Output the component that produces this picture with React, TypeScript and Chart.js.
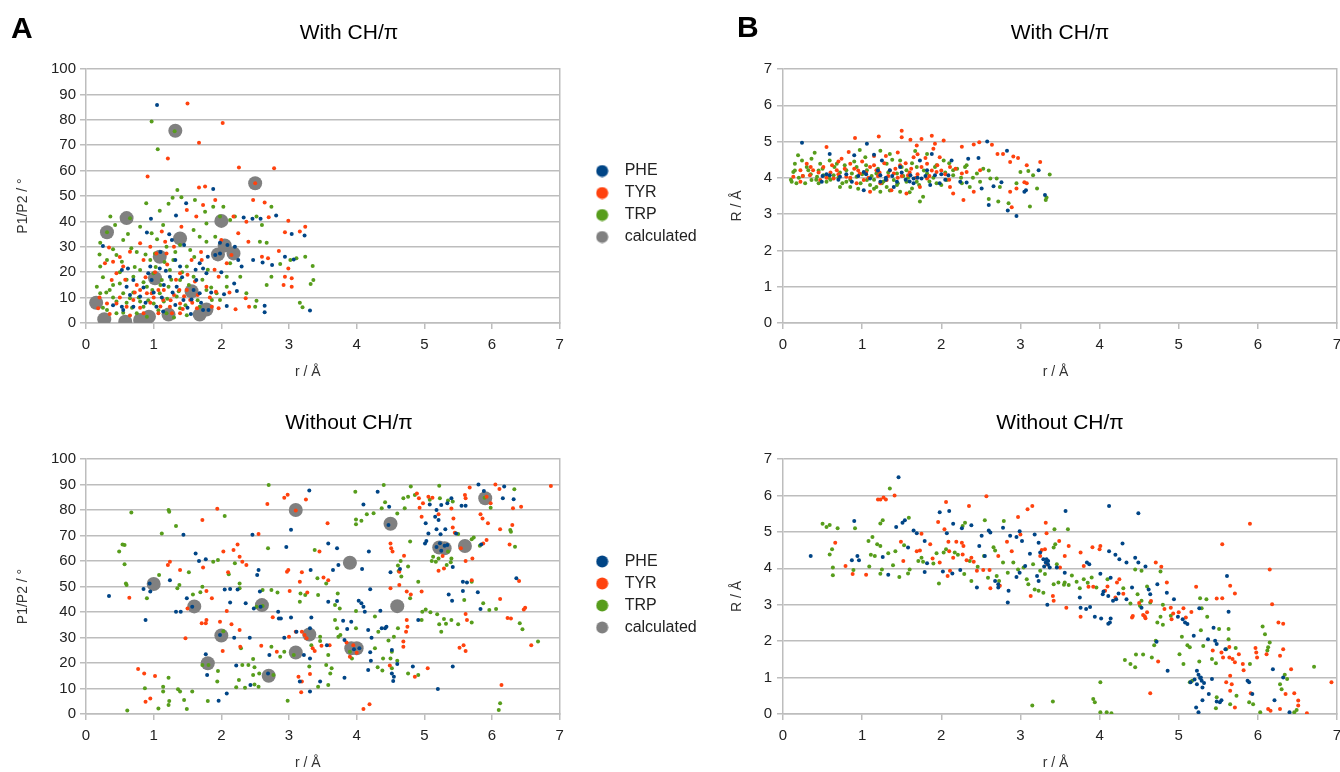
import React, { useEffect, useRef } from "react";
import { Chart, registerables } from "chart.js";

Chart.register(...registerables);

type Pt = [number, number];

const FONT = '"Liberation Sans", Arial, sans-serif';
const GRID = "#bdbdbd";
const TEXT = "#222222";
const seriesNames = ["PHE", "TYR", "TRP", "calculated"];
const seriesColors = ["#004586", "#ff420e", "#579d1c", "#808080"];
const rTicks = [0, 1, 2, 3, 4, 5, 6, 7];
const angleTicks = [0, 10, 20, 30, 40, 50, 60, 70, 80, 90, 100];
const distTicks = [0, 1, 2, 3, 4, 5, 6, 7];

// ---------- With CH/π : P1/P2 angle ----------
const pheWithAngle: Pt[] = [[1.05,85.8],[1.88,52.8],[1.48,47.1],[1.33,42.3],[0.96,41],[0.9,35.6],[0.25,30.3],[1.23,34.9],[1.27,32.7],[1.45,30.7],[2.33,41.5],[2.46,41],[2.58,41],[2.81,42.3],[3.04,35],[3.23,34.4],[2.61,23.8],[2.47,24.8],[2.75,22.8],[2.94,26.1],[3.07,25],[3.31,4.9],[2.64,6.8],[2.64,4.2],[1.98,31.6],[2.09,30.7],[1.98,27.4],[1.91,26.8],[2.2,30],[2.25,24.8],[2.3,22.2],[2.19,15.6],[2.23,12.6],[2.04,11.3],[1.8,26.1],[1.68,23.5],[1.73,21.5],[1.78,19.6],[1.63,16.9],[1.59,13],[1.68,11.7],[1.56,9.3],[1.44,9.1],[1.32,7.1],[1.14,4.5],[1.04,6.4],[0.95,22.2],[0.92,19.6],[1.09,21.5],[1.18,20.6],[0.97,16.9],[0.7,16.9],[0.6,14.3],[0.53,20.9],[0.53,6.4],[0.7,6.4],[0.55,5.1],[0.8,10.4],[1.81,5.1],[1.73,5.1],[2.08,6.7],[1.32,24.8],[1.39,22.2],[1.24,18.2],[1.34,14.3],[0.88,8],[1.0,12],[1.12,10],[0.62,21.5],[1.55,3.5],[0.4,7],[0.65,11],[0.85,14],[1.15,15],[1.28,12],[1.42,18],[1.5,6],[1.62,21],[1.7,8],[1.85,12],[2.0,20],[1.1,28]];
const tyrWithAngle: Pt[] = [[1.5,86.4],[2.02,78.7],[1.67,71],[1.21,64.8],[2.26,61.2],[2.78,60.9],[0.91,57.7],[2.5,55],[1.67,53.3],[1.76,53.7],[1.91,48.4],[1.73,46.5],[1.49,44.5],[1.63,41.9],[2.47,48.4],[2.64,47.4],[2.7,41.6],[2.99,40.3],[2.94,35.7],[3.24,37.9],[3.16,36],[2.85,28.3],[2.99,21.5],[2.94,18.2],[3.04,17.6],[2.92,15],[3.04,14.3],[2.37,39.9],[2.18,41.9],[2.25,35.3],[2.4,32],[2.36,9.7],[2.21,5.4],[2.41,6.4],[2.6,26.1],[2.69,25.5],[2.15,26.8],[2.08,23.5],[1.96,18.2],[1.78,14.3],[1.92,12.3],[1.86,6.4],[1.96,5.8],[1.61,16.3],[1.39,19.6],[1.49,13],[1.54,9.1],[1.39,7.7],[1.24,6.4],[1.14,9.1],[1.07,13],[0.9,11.7],[0.8,13],[0.7,9.1],[0.6,6.4],[0.45,7.7],[0.31,7.7],[0.18,5.8],[0.28,23.5],[0.34,29.7],[0.4,24.1],[0.45,19.6],[0.38,16.9],[0.55,22.2],[0.8,31.4],[0.65,28.1],[1.12,36],[1.17,32],[1.04,27.4],[0.85,24.8],[0.97,11.7],[0.85,3.8],[1.27,3.8],[1.39,3.8],[1.64,5.8],[1.07,3.8],[1.41,37.9],[1.19,27.4],[1.56,24.8],[1.71,24.8],[2.0,32.7],[1.0,10],[1.3,11],[1.45,10.5],[0.75,15],[0.2,10],[0.35,3.5],[0.5,10],[0.58,17],[0.65,3],[0.72,12],[0.8,6],[0.88,18],[0.95,8],[1.02,20],[1.1,6.5],[1.15,13],[1.2,23],[1.25,9],[1.33,17],[1.38,13],[1.43,5.5],[1.5,19],[1.57,8],[1.65,11],[1.7,28],[1.83,10],[1.9,21],[2.12,12],[0.95,30],[1.3,30],[0.5,26]];
const trpWithAngle: Pt[] = [[0.97,79.3],[1.06,68.4],[1.31,75.5],[1.35,52.4],[1.28,49.3],[0.89,47.1],[1.09,44.2],[0.36,41.9],[0.65,41.2],[0.43,38.6],[0.31,35.7],[0.21,31.6],[0.55,32.7],[0.67,29.4],[0.45,26.8],[0.31,24.8],[0.21,22.2],[0.16,14.3],[0.21,11.7],[0.35,13],[0.5,15.6],[0.7,18.2],[0.8,20.9],[0.95,24.8],[1.02,27.4],[1.19,30],[1.39,30.7],[1.59,36.6],[1.78,39.2],[1.98,41.9],[2.13,40.6],[2.2,41.9],[2.52,41.9],[2.6,38.6],[2.74,45.8],[2.67,31.6],[2.57,32],[2.87,23.2],[3.02,24.8],[3.11,25.5],[3.24,26.1],[3.35,22.4],[3.36,16.9],[3.32,15.4],[3.16,8],[3.2,6.2],[2.74,18.2],[2.67,15],[2.52,8.8],[2.37,11.7],[2.28,18.2],[2.5,6.4],[2.08,18.2],[1.93,11.7],[2.08,14.3],[1.98,9.1],[1.86,9.1],[1.68,6.4],[1.78,13],[1.59,18.2],[1.49,22.2],[1.54,28.7],[1.29,24.8],[1.24,20.9],[1.12,16.9],[1.0,19.6],[0.9,14.3],[1.09,11.7],[1.0,7.7],[0.85,6.4],[0.75,3.8],[0.65,9.7],[0.55,11.7],[0.45,3.8],[0.31,5.1],[1.19,3.8],[1.39,5.8],[1.49,3.1],[1.34,10.4],[1.22,14.3],[1.39,16.9],[1.76,43.8],[1.88,45.8],[2.03,45.8],[1.22,46.9],[1.41,49.5],[1.61,48.4],[2.13,23.5],[1.78,32],[1.68,34],[1.91,34],[0.97,35.3],[0.8,37.9],[1.14,38.6],[0.53,24.1],[0.25,18],[0.4,10],[0.6,8],[0.8,8.5],[0.9,2.5],[1.15,8.5],[1.3,2.2],[0.7,12],[0.25,6],[0.3,12],[0.4,15],[0.45,8.5],[0.5,20],[0.55,4],[0.6,17],[0.68,6],[0.72,22],[0.78,10],[0.85,16],[0.88,27],[0.92,9],[0.98,13],[1.03,22],[1.07,5],[1.1,15],[1.16,24],[1.2,9.5],[1.26,17],[1.32,28],[1.37,12.5],[1.42,20],[1.47,7],[1.52,15],[1.6,26],[1.65,9],[1.72,17],[1.8,21],[1.85,14],[1.05,33],[0.75,28],[0.4,29],[0.2,27],[0.62,35]];
const calcWithAngle: Pt[] = [[0.15,8],[0.27,1.5],[0.31,35.7],[0.6,41.3],[0.58,0.5],[0.8,1.2],[0.87,0.5],[0.93,2.5],[1.09,26.1],[1.32,75.7],[1.22,3.3],[1.39,33.3],[1.56,12.5],[1.68,3.3],[1.78,5.3],[1.95,27],[2.0,40.2],[2.05,30.5],[2.18,27.4],[2.5,55],[1.02,17.6]];

// ---------- With CH/π : R distance ----------
const pheWithDist: Pt[] = [[0.24,4.97],[0.59,4.66],[1.06,4.94],[1.15,4.64],[0.9,4.62],[1.88,4.66],[2.13,4.48],[2.34,4.53],[2.47,4.55],[2.58,5.0],[2.83,4.75],[2.76,3.88],[2.51,3.71],[2.66,3.77],[2.6,3.25],[2.84,3.1],[2.95,2.95],[3.07,3.66],[3.23,4.21],[3.31,3.53],[2.24,3.89],[2.32,3.87],[1.98,3.85],[1.65,3.85],[1.75,3.98],[1.61,4.07],[1.44,3.89],[1.35,4.21],[1.23,4.07],[1.1,3.98],[1.02,4.16],[0.87,3.89],[0.72,4.03],[0.59,4.07],[0.49,3.89],[1.02,3.66],[1.23,3.89],[1.48,4.3],[1.82,4.21],[1.92,4.07],[2.09,4.07],[1.73,4.48],[1.25,4.48],[1.65,3.98],[1.4,3.75],[1.86,3.8],[0.55,4.1],[0.95,4.05],[1.3,4.0],[1.55,3.95],[2.0,4.1],[3.05,3.62],[0.5,4.05],[0.8,4.1],[1.05,4.1],[1.2,4.2],[1.38,4.05],[1.5,4.15],[1.7,4.0],[1.8,4.05],[2.05,3.95],[1.6,3.9],[1.3,3.95],[0.7,3.95]];
const tyrWithDist: Pt[] = [[1.5,5.3],[1.5,5.12],[1.21,5.14],[0.91,5.1],[0.55,4.85],[1.61,5.05],[1.75,5.07],[1.88,5.16],[2.03,5.03],[1.69,4.89],[1.92,4.94],[2.26,4.86],[2.41,4.92],[2.48,4.98],[2.64,4.91],[2.71,4.66],[2.78,4.66],[2.91,4.59],[2.97,4.55],[2.87,4.44],[3.08,4.35],[3.25,4.44],[3.08,3.85],[2.95,3.71],[2.87,3.62],[2.89,3.19],[2.28,3.39],[2.41,3.62],[2.15,3.57],[2.11,3.75],[2.32,4.16],[2.26,4.12],[2.49,4.21],[2.11,4.3],[1.94,4.16],[1.82,4.39],[1.65,4.57],[1.48,4.35],[1.4,4.12],[1.31,3.94],[1.18,4.21],[1.1,4.3],[0.97,4.12],[0.85,4.39],[0.83,4.71],[0.74,4.53],[0.68,4.21],[0.51,4.3],[0.38,4.21],[0.3,4.39],[0.22,4.21],[0.13,4.03],[0.22,3.89],[0.34,4.07],[0.47,3.94],[0.64,3.98],[0.8,4.03],[0.93,3.85],[1.1,3.62],[1.56,3.57],[1.73,3.75],[1.82,3.98],[1.58,4.07],[1.37,3.66],[1.98,4.57],[1.23,3.85],[1.02,3.94],[1.05,4.15],[1.2,4.05],[1.35,4.2],[1.45,4.0],[1.62,4.25],[1.7,4.1],[1.85,4.05],[2.0,4.2],[0.6,4.15],[0.9,4.25],[3.05,3.88],[0.25,4.05],[0.35,4.3],[0.45,4.15],[0.55,4.0],[0.62,4.35],[0.7,4.1],[0.78,4.25],[0.85,4.0],[0.95,4.2],[1.0,4.45],[1.08,4.0],[1.15,4.35],[1.22,4.15],[1.28,4.4],[1.33,4.05],[1.42,4.25],[1.5,4.05],[1.55,4.4],[1.6,4.15],[1.68,4.0],[1.75,4.3],[1.8,4.55],[1.88,4.2],[1.95,4.35],[2.05,4.1],[2.1,3.95],[2.18,4.25],[1.3,4.6],[1.45,4.7],[1.7,4.65],[1.9,4.8],[1.15,4.6],[0.7,4.45]];
const trpWithDist: Pt[] = [[0.19,4.62],[0.15,4.39],[0.11,3.89],[0.17,3.85],[0.28,3.85],[0.4,4.69],[0.32,4.21],[0.43,4.03],[0.55,3.89],[0.72,3.75],[0.85,3.75],[0.97,4.77],[1.04,4.57],[1.1,3.8],[1.25,3.85],[1.4,3.94],[1.23,3.62],[1.48,3.62],[1.63,3.71],[1.73,3.35],[1.77,3.48],[1.67,4.74],[1.82,4.66],[2.03,4.48],[1.94,4.35],[2.15,4.21],[2.32,4.35],[2.36,3.75],[2.49,3.89],[2.62,3.98],[2.53,4.25],[2.6,3.42],[2.72,3.35],[2.85,3.3],[2.95,3.85],[3.1,4.19],[3.16,4.07],[3.21,3.71],[3.12,3.21],[3.33,3.46],[3.32,3.39],[3.37,4.09],[3.0,4.16],[2.74,3.75],[2.26,3.85],[2.07,3.94],[1.94,3.85],[1.82,4.12],[1.69,4.3],[1.56,4.21],[1.44,4.12],[1.31,4.39],[1.18,4.12],[1.06,4.21],[0.93,4.3],[0.8,4.21],[0.68,4.39],[0.59,4.48],[0.47,4.39],[0.36,4.53],[0.24,4.48],[0.51,4.07],[0.64,4.07],[0.8,3.89],[0.93,4.03],[1.06,3.94],[1.18,3.75],[1.31,3.75],[1.44,3.8],[1.56,3.89],[1.69,3.89],[1.23,4.75],[1.35,4.66],[1.48,4.48],[2.15,4.07],[2.45,4.12],[2.7,3.98],[0.87,4.12],[0.36,3.94],[0.13,4.16],[0.45,4.2],[0.7,4.0],[1.0,4.1],[1.15,3.95],[1.52,4.05],[1.9,4.0],[2.2,4.25],[0.25,4.05],[0.6,3.95],[2.6,4.2],[0.3,4.3],[0.35,4.1],[0.42,3.95],[0.5,4.25],[0.58,4.0],[0.65,4.3],[0.72,4.15],[0.78,4.35],[0.85,3.95],[0.9,4.45],[0.98,3.85],[1.05,4.35],[1.12,4.05],[1.2,4.25],[1.27,3.9],[1.33,4.15],[1.38,4.5],[1.45,3.85],[1.5,4.3],[1.58,4.0],[1.63,4.4],[1.72,3.8],[1.78,4.2],[1.85,3.9],[1.92,4.3],[2.0,3.8],[2.05,4.15],[2.1,4.4],[2.25,4.0],[2.3,4.3],[2.4,4.0],[0.2,4.0],[0.1,3.95],[0.15,4.2],[0.45,3.85],[0.75,3.85],[0.95,3.7],[1.15,3.7],[1.35,3.65],[1.6,3.6]];

// ---------- Without CH/π : P1/P2 angle ----------
const pheWithoutAngle: Pt[] = [[0.34,46.3],[0.85,49],[0.95,48],[0.94,51.2],[0.88,36.9],[1.44,70.3],[1.24,52.5],[1.62,62.9],[1.67,60],[1.77,60.7],[1.49,45.4],[1.57,42.1],[1.4,40.1],[1.33,40.1],[1.79,15.3],[1.77,23.4],[1.96,5.2],[2.08,8],[2.05,48.8],[2.13,49],[2.24,48.8],[2.13,43.7],[2.36,43.4],[2.19,29.9],[2.42,29.9],[2.22,19],[2.43,11.4],[2.46,70.3],[2.55,56.5],[2.53,54.5],[2.57,48],[2.58,42.1],[2.71,23.1],[2.84,40.1],[2.85,37.5],[2.88,37.5],[2.93,29.9],[3.03,37.8],[3.03,72.3],[2.96,65.5],[3.3,87.6],[3.32,56.5],[3.33,37.8],[3.31,33.6],[3.22,23.1],[3.31,21.8],[3.16,12.7],[3.31,8.8],[3.58,66.9],[3.58,44],[3.46,12.7],[2.69,15.9],[1.98,31],[2.48,41.4],[3.56,27],[3.11,32.3],[3.71,65],[4.18,63.7],[4.1,82.2],[4.31,87.2],[4.48,81.3],[4.47,74.1],[3.65,56.5],[3.73,58.4],[4.08,56.9],[4.5,55.6],[4.64,56.9],[4.2,48.9],[4.03,44.4],[4.07,43.4],[4.1,42.1],[4.12,40.1],[3.71,44.3],[3.8,36.6],[3.92,36.2],[3.86,33.3],[3.82,29],[4.17,32.9],[4.35,40.5],[4.37,33.6],[4.42,33.6],[4.44,34.2],[4.52,25.1],[3.96,25.4],[4.04,25.8],[4.22,29.9],[4.2,24.2],[4.21,20.9],[4.17,17.3],[4.52,15.9],[4.55,14.6],[4.6,19.6],[4.83,18.6],[4.54,12.9],[3.82,14.2],[4.91,36.9],[5.08,82.2],[5.18,80],[5.25,82],[5.34,82.6],[5.4,84.6],[5.16,77.4],[5.21,76.1],[5.02,74.8],[5.06,70.8],[5.18,72.5],[5.24,70.5],[5.31,72.5],[5.01,66.9],[5.03,67.8],[5.23,67],[5.34,66.3],[5.42,57.6],[5.47,70.8],[5.55,81.7],[5.61,81.7],[5.8,90],[5.88,87.5],[5.84,66.5],[5.57,51.9],[5.63,51.6],[5.57,48.2],[5.36,46.9],[5.41,44.4],[5.79,47.7],[5.83,41.2],[6.36,53.2],[6.18,89.2],[6.16,84.6],[6.32,84.2],[5.2,9.8],[5.42,18.6],[5.25,64],[5.3,66],[5.18,65.5]];
const tyrWithoutAngle: Pt[] = [[0.64,45.6],[0.77,17.6],[0.86,15.9],[1.02,14.9],[0.88,4.8],[0.95,6.1],[1.21,58.4],[1.24,59.7],[1.39,56.5],[1.47,29.7],[1.5,41.4],[1.72,76.1],[1.94,80.5],[1.73,57.5],[1.78,48.2],[1.86,45.4],[1.77,35.6],[1.71,35.6],[1.78,36.9],[1.98,36.2],[2.08,40.4],[2.03,63.7],[2.18,64.3],[2.24,66.5],[2.27,61.7],[2.31,59.7],[2.1,55.6],[2.02,24.7],[2.15,35.2],[2.27,32.9],[2.28,26.4],[2.55,70.6],[2.68,82.4],[2.93,84.8],[2.98,86],[3.25,84.1],[3.57,74.8],[2.59,26.8],[2.76,37.9],[2.82,24.4],[3.01,48.2],[2.97,55.8],[2.99,56.5],[3.19,55.6],[3.16,51.9],[3.27,47.6],[3.19,32.3],[3.1,32.3],[3.23,31],[3.26,29.7],[3.35,25.8],[3.14,14.6],[3.19,12.7],[3.18,8.5],[3.38,24.7],[3.48,26.8],[3.6,27],[3.31,15.7],[3.51,53.5],[3.58,52.5],[3.45,63.7],[3.0,30.3],[2.37,58.4],[3.1,79.8],[4.5,66.9],[4.51,65],[4.53,63.7],[4.7,62.1],[4.63,50.6],[4.74,48],[4.8,46.9],[4.63,55.8],[4.5,49.3],[4.96,48],[4.74,36.9],[4.75,34.2],[4.73,32.3],[4.69,26.4],[4.89,86.5],[4.92,84.6],[4.98,82.6],[5.06,85.2],[5.12,84.8],[4.93,80.9],[4.96,77.4],[5.21,78.3],[5.4,80.6],[5.42,73.1],[5.43,76.7],[5.45,71.1],[5.6,85.9],[5.61,84.6],[5.67,88.8],[5.92,85.2],[5.98,82.6],[6.05,90],[6.11,88.2],[6.31,80.7],[6.43,81.3],[6.12,72.5],[6.3,74.1],[5.83,78.3],[5.86,76.7],[5.94,74.8],[5.92,68.2],[5.71,61],[5.61,60],[5.27,62],[5.21,56.2],[5.29,57.1],[5.54,65],[5.87,66.9],[6.26,66.5],[6.4,52.2],[6.47,41],[6.49,41.7],[6.12,45.1],[6.23,37.6],[6.28,37.5],[5.61,39.2],[5.63,36.9],[5.52,26],[5.58,27],[5.61,24.7],[6.58,27],[6.87,89.4],[6.14,11.4],[4.1,2],[4.19,3.8],[4.86,14.6],[5.05,17.9],[4.49,19],[4.69,28.4],[5.7,52.5],[3.95,27],[4.0,24],[3.9,22.5],[3.85,28]];
const trpWithoutAngle: Pt[] = [[0.61,1.4],[0.67,79],[0.49,63.7],[0.54,66.5],[0.57,66.3],[0.57,58.7],[0.59,51.2],[0.6,50.6],[0.9,45.4],[0.87,10.1],[1.08,54.5],[1.12,70.8],[1.07,2.2],[1.14,10.7],[1.14,8.8],[1.22,80],[1.23,79.3],[1.22,14.2],[1.23,5.1],[1.22,3.5],[1.33,73.7],[1.35,49.3],[1.38,50.6],[1.39,8.8],[1.36,9.7],[1.45,5.5],[1.49,2],[1.52,55.6],[1.58,46.9],[1.72,49.9],[1.69,47.7],[1.81,19.2],[1.72,19.2],[1.57,8.8],[1.8,5.1],[1.88,59.7],[1.95,60.4],[2.05,77.6],[2.2,59.1],[2.11,54.8],[2.03,32.5],[1.95,16.9],[1.94,12.7],[2.27,51.2],[2.27,49.3],[2.29,25.8],[2.26,13.3],[2.22,10.5],[2.35,10.3],[2.31,19.2],[2.4,19.2],[2.47,21.6],[2.49,18.3],[2.47,15.3],[2.56,15.9],[2.55,10.7],[2.49,11.6],[2.61,42.4],[2.52,42.1],[2.61,48.6],[2.69,65],[2.7,89.8],[2.74,48.6],[2.83,47.6],[2.77,15.3],[2.74,26.4],[2.93,24.4],[2.87,22.5],[2.98,5.2],[3.07,23.1],[3.17,47.3],[3.16,44],[3.24,46.7],[3.38,64.3],[3.42,53.2],[3.43,46.7],[3.55,51.2],[3.46,30.3],[3.46,28.6],[3.58,23.1],[3.55,19.2],[3.43,10.7],[3.58,11.4],[3.3,18.6],[3.33,27],[3.98,87.2],[4.4,89.8],[4.8,89.2],[5.22,89.5],[3.99,74.4],[3.99,76.3],[4.07,75.8],[4.15,78.3],[4.25,78.7],[4.37,80.7],[4.42,83],[4.6,78.6],[4.69,84.6],[4.76,85.2],[4.71,80.7],[4.86,85.9],[5.08,84],[5.23,84.6],[5.35,83.7],[5.42,83.3],[5.5,70.6],[5.7,68.5],[5.73,69.2],[5.89,84.8],[5.98,80.9],[6.27,72.2],[6.28,71.5],[6.33,88.1],[6.34,65.6],[5.17,59.7],[5.11,60],[5.33,58.4],[5.39,59.5],[5.4,61],[5.35,63.7],[5.7,51.9],[5.59,44.7],[5.87,43.4],[5.96,40.8],[6.06,41.2],[6.41,35.6],[6.45,33.2],[6.68,28.4],[6.12,4.2],[6.1,1.6],[4.61,58.2],[4.62,56.1],[4.76,57.8],[4.66,53.9],[4.65,60],[4.79,45.4],[4.97,40.1],[5.02,41],[5.09,39.9],[5.19,39.1],[5.29,37.3],[5.32,35.4],[5.4,36.9],[5.22,35.2],[5.25,32.3],[5.5,35.2],[5.7,35.9],[4.96,36.9],[4.91,15.3],[4.76,15.9],[4.6,20.9],[4.52,17.9],[4.38,17.1],[4.31,18.3],[4.39,21.8],[4.5,21.8],[4.52,24.4],[4.47,28.8],[4.55,30.3],[4.32,32.3],[3.99,33.6],[3.73,30.3],[3.76,31],[3.71,33.6],[3.68,36.9],[3.75,41.4],[3.68,42.7],[3.72,47.3],[3.99,40.4],[4.27,38.2],[3.9,24.4],[3.93,21.8],[3.63,17.9],[3.61,15.9],[4.61,33.6],[4.27,25.8],[4.91,51.9],[4.79,67.6],[5.13,61.7],[5.21,61],[5.82,66]];
const calcWithoutAngle: Pt[] = [[1.0,51],[1.6,42.2],[2.6,42.7],[2.0,30.8],[3.1,80],[1.8,19.9],[2.7,15],[3.1,24.1],[3.3,31.2],[3.9,59.3],[4.5,74.6],[4.6,42.3],[3.92,25.8],[4.0,25.8],[5.22,65.3],[5.3,65],[5.6,65.9],[5.9,84.6]];

// ---------- Without CH/π : R distance ----------
const pheWithoutDist: Pt[] = [[0.35,4.34],[0.9,5.3],[0.87,4.22],[0.94,4.34],[0.96,4.22],[1.46,6.5],[1.43,5.13],[1.51,5.25],[1.54,5.32],[1.58,4.57],[1.33,3.82],[1.26,4.31],[1.65,5.04],[1.69,4.96],[1.79,4.75],[1.82,4.14],[1.79,3.9],[1.98,5.54],[2.1,5.57],[2.15,5.22],[2.07,4.96],[2.02,3.91],[2.14,3.86],[2.26,5.1],[2.38,5.18],[2.48,4.61],[2.51,4.89],[2.6,5.04],[2.62,4.98],[2.55,4.34],[2.24,3.95],[2.45,3.47],[2.68,3.65],[2.72,3.56],[2.72,3.47],[2.78,5.11],[2.87,4.89],[2.95,4.86],[2.99,5.02],[3.02,4.75],[2.85,3.38],[2.84,3.06],[2.95,3.76],[3.06,4.06],[3.12,4.4],[3.18,4.93],[3.23,4.7],[3.25,4.43],[3.29,4.25],[3.32,4.16],[3.35,4.2],[3.37,4.02],[3.34,3.0],[3.46,4.02],[3.56,3.88],[3.57,5.57],[3.23,3.65],[3.21,3.79],[2.99,3.88],[4.12,5.71],[4.49,5.51],[4.29,4.68],[4.45,4.29],[4.49,4.16],[4.58,4.05],[4.2,4.37],[4.25,4.25],[4.34,4.16],[4.12,4.47],[4.01,3.85],[4.14,3.74],[4.11,3.24],[4.05,3.36],[4.04,3.29],[4.17,3.11],[4.21,3.15],[4.24,3.31],[3.87,4.11],[3.84,4.16],[3.75,3.2],[3.76,2.92],[3.83,2.88],[3.94,2.67],[4.02,2.62],[4.14,2.62],[4.13,2.51],[4.11,2.48],[3.88,2.94],[4.34,3.15],[4.41,3.47],[4.53,2.92],[4.62,3.42],[4.64,3.29],[4.73,3.56],[4.85,3.33],[4.94,3.15],[4.72,1.98],[4.86,1.19],[4.99,2.67],[5.05,2.6],[5.08,2.51],[5.11,2.47],[5.19,2.15],[5.26,2.9],[5.37,2.05],[5.44,2.37],[5.46,2.01],[5.48,1.92],[5.23,1.19],[5.25,1.08],[5.27,0.99],[5.29,0.91],[5.23,0.82],[5.3,0.73],[5.15,0.87],[5.25,0.05],[5.22,0.18],[5.38,0.55],[5.3,0.38],[5.42,0.96],[5.48,0.34],[5.52,0.32],[5.54,0.38],[5.61,3.79],[5.63,2.81],[5.59,1.78],[5.87,0.91],[5.89,0.87],[5.93,0.55],[6.19,1.23],[6.21,0.38],[6.32,1.0],[6.4,0.05],[5.2,0.95],[5.28,1.0],[5.32,0.85],[3.35,4.1],[3.33,4.25],[3.3,4.05]];
const tyrWithoutDist: Pt[] = [[0.79,4.06],[0.66,4.7],[0.88,3.84],[1.05,3.82],[1.2,5.89],[1.23,5.89],[1.27,5.94],[1.3,5.89],[1.41,6.0],[1.49,4.73],[1.52,4.2],[1.69,4.47],[1.73,4.49],[1.75,4.95],[1.86,4.66],[1.89,4.27],[1.96,5.27],[1.98,4.16],[2.06,5.82],[2.04,5.07],[2.09,4.73],[2.1,4.47],[2.11,3.93],[2.08,3.79],[2.15,4.29],[2.19,4.73],[2.26,4.7],[2.28,4.61],[2.27,4.38],[2.32,4.22],[2.35,5.71],[2.38,4.29],[2.41,4.18],[2.45,3.93],[2.57,5.98],[2.53,3.95],[2.61,3.95],[2.62,3.45],[2.72,4.34],[2.74,3.52],[2.83,4.73],[2.89,4.47],[2.97,5.41],[3.0,4.93],[3.09,5.62],[3.15,5.71],[3.13,3.24],[3.25,4.34],[3.27,4.5],[3.31,4.52],[3.32,5.25],[3.33,4.96],[3.34,4.11],[3.41,3.24],[3.42,3.11],[3.5,4.02],[3.56,4.34],[3.58,2.92],[3.61,4.61],[3.49,4.75],[5.9,5.22],[5.55,4.66],[6.15,3.97],[6.18,3.01],[6.26,2.51],[6.32,2.48],[6.28,1.6],[5.65,3.52],[5.71,3.31],[5.55,3.18],[5.22,3.49],[5.48,3.17],[4.01,4.61],[3.91,4.58],[4.0,4.52],[3.8,4.06],[3.76,4.43],[3.76,2.67],[3.92,3.49],[3.86,3.49],[4.07,3.38],[4.22,3.61],[4.25,3.7],[4.41,2.65],[4.42,2.69],[4.55,2.72],[4.57,2.68],[4.6,2.79],[4.58,2.63],[4.64,0.57],[4.71,4.16],[4.78,4.04],[4.74,1.44],[4.82,2.88],[4.9,2.92],[4.93,2.76],[4.91,2.6],[5.0,2.79],[5.06,2.9],[5.09,2.65],[5.16,2.8],[4.85,3.61],[5.43,1.74],[5.54,1.69],[5.56,1.55],[5.64,1.84],[5.64,1.55],[5.68,1.51],[5.71,1.42],[5.76,1.64],[5.65,1.05],[5.67,0.82],[5.65,0.64],[5.6,0.87],[5.71,0.18],[5.81,1.37],[5.82,1.2],[5.91,0.57],[5.97,1.81],[5.98,1.69],[5.99,1.55],[6.11,1.64],[6.13,0.14],[6.16,0.09],[6.28,0.14],[6.32,1.78],[6.35,0.55],[6.42,1.23],[6.46,0.57],[6.51,0.37],[6.51,0.23],[6.62,0.02],[6.93,0.87],[4.1,3.5],[4.3,3.3],[4.5,3.05],[4.65,3.1],[4.2,3.2]];
const trpWithoutDist: Pt[] = [[0.5,5.22],[0.55,5.13],[0.59,5.19],[0.69,5.1],[0.59,4.38],[0.62,4.52],[0.63,4.02],[0.63,3.81],[0.91,5.1],[0.89,3.95],[1.08,4.75],[1.13,4.86],[1.09,4.05],[1.11,4.37],[1.16,4.34],[1.19,4.66],[1.23,4.61],[1.23,5.23],[1.26,5.32],[1.25,3.97],[1.23,3.85],[1.33,4.41],[1.35,6.19],[1.42,4.47],[1.39,4.08],[1.47,3.76],[1.53,4.63],[1.59,5.39],[1.58,3.86],[1.6,3.97],[1.71,4.2],[1.75,4.29],[1.77,4.18],[1.9,4.13],[1.94,4.41],[1.97,3.58],[2.03,4.43],[2.06,4.52],[2.17,4.43],[2.21,4.37],[2.27,5.16],[2.3,5.25],[2.29,3.84],[2.36,4.2],[2.38,3.65],[2.46,4.04],[2.55,5.32],[2.54,4.34],[2.59,3.74],[2.66,4.58],[2.68,4.49],[2.7,3.79],[2.73,3.65],[2.79,5.3],[2.78,4.16],[2.84,3.88],[2.91,4.16],[2.97,3.97],[3.04,4.02],[3.08,3.7],[3.1,3.56],[3.18,3.42],[3.23,3.38],[3.29,3.33],[3.16,4.11],[3.25,3.93],[3.31,3.84],[3.42,4.57],[3.43,5.07],[3.44,4.66],[3.42,3.56],[3.48,3.61],[3.6,5.07],[3.56,3.61],[3.15,0.23],[3.41,0.34],[3.46,4.11],[3.61,3.54],[3.71,3.63],[3.8,3.7],[3.96,3.47],[4.01,0.87],[4.01,0.05],[4.09,0.05],[4.15,0.02],[3.92,0.41],[3.94,0.32],[4.32,1.48],[4.39,1.37],[4.46,1.63],[4.55,1.63],[4.45,1.28],[4.66,1.55],[4.69,1.89],[4.71,2.01],[4.73,2.51],[4.77,2.67],[4.51,2.97],[4.53,3.11],[4.48,3.29],[4.53,3.93],[4.45,3.97],[4.39,3.03],[4.64,3.06],[4.77,3.91],[5.01,1.64],[5.06,1.37],[5.04,2.12],[5.11,1.89],[5.14,1.83],[5.14,0.87],[5.17,0.91],[5.27,3.18],[5.29,2.9],[5.35,3.15],[5.28,2.3],[5.36,2.67],[5.31,1.87],[5.26,1.44],[5.42,1.51],[5.47,1.39],[5.51,2.33],[5.63,2.33],[5.63,2.05],[5.6,1.78],[5.48,0.46],[5.47,0.16],[5.65,0.27],[5.73,0.5],[5.72,1.81],[5.9,1.37],[5.89,0.32],[5.94,0.27],[6.03,0.05],[6.06,2.4],[6.09,2.19],[6.13,1.83],[6.15,1.96],[6.12,1.74],[6.28,0.82],[6.3,0.68],[6.34,1.08],[6.37,0.96],[6.46,0.05],[6.49,0.11],[6.71,1.3],[3.65,3.8],[3.75,3.45],[3.85,3.6],[3.55,3.55],[3.9,3.75],[4.1,3.7],[4.3,3.45],[4.6,3.5],[4.8,3.0],[4.9,2.7],[4.8,2.45]];

interface PanelSpec {
  left: number; top: number; width: number; height: number;
  title: string; titleFull: boolean;
  yTitle: string; yTicks: number[]; yMax: number;
  yAxisWidth: number; yTickPad: number;
  yTitleX: number; xTitleDx: number;
  rightAxisWidth: number; padRight: number; padBottom: number;
  legend: boolean; series: Pt[][];
}

const panels: PanelSpec[] = [
  { left: 0, top: 0, width: 698, height: 406, title: "With CH/π", titleFull: true, yTitle: "P1/P2 / °", yTicks: angleTicks, yMax: 100, yAxisWidth: 86, yTickPad: 4, yTitleX: 23, xTitleDx: -15, rightAxisWidth: 22, padRight: 0, padBottom: 25, legend: true, series: [pheWithAngle, tyrWithAngle, trpWithAngle, calcWithAngle] },
  { left: 720, top: 0, width: 630, height: 406, title: "With CH/π", titleFull: false, yTitle: "R / Å", yTicks: distTicks, yMax: 7, yAxisWidth: 63, yTickPad: 5, yTitleX: 17, xTitleDx: -4.5, rightAxisWidth: 1, padRight: 12, padBottom: 25, legend: false, series: [pheWithDist, tyrWithDist, trpWithDist] },
  { left: 0, top: 390, width: 698, height: 382, title: "Without CH/π", titleFull: true, yTitle: "P1/P2 / °", yTicks: angleTicks, yMax: 100, yAxisWidth: 86, yTickPad: 4, yTitleX: 23, xTitleDx: -15, rightAxisWidth: 22, padRight: 0, padBottom: 0, legend: true, series: [pheWithoutAngle, tyrWithoutAngle, trpWithoutAngle, calcWithoutAngle] },
  { left: 720, top: 390, width: 630, height: 382, title: "Without CH/π", titleFull: false, yTitle: "R / Å", yTicks: distTicks, yMax: 7, yAxisWidth: 63, yTickPad: 5, yTitleX: 17, xTitleDx: -4.5, rightAxisWidth: 1, padRight: 12, padBottom: 0, legend: false, series: [pheWithoutDist, tyrWithoutDist, trpWithoutDist] },
];

function makeDot(color: string): HTMLCanvasElement {
  const c = document.createElement("canvas");
  c.width = 13;
  c.height = 13;
  const g = c.getContext("2d")!;
  g.fillStyle = color;
  g.beginPath();
  g.arc(6.5, 6.5, 6, 0, Math.PI * 2);
  g.fill();
  return c;
}

// Axis titles, placed relative to the chart area (as in the reference)
const axisTitlesPlugin = {
  id: "axisTitles",
  afterDraw(chart: any, _args: any, opts: any) {
    const { ctx, chartArea } = chart;
    ctx.save();
    ctx.fillStyle = "#333";
    ctx.font = `14px ${FONT}`;
    ctx.textAlign = "center";
    ctx.textBaseline = "middle";
    ctx.fillText(opts.xText, (chartArea.left + chartArea.right) / 2 + opts.xDx, chartArea.bottom + 49.5);
    ctx.translate(opts.yX, (chartArea.top + chartArea.bottom) / 2 + 10);
    ctx.rotate(-Math.PI / 2);
    ctx.fillText(opts.yText, 0, 0);
    ctx.restore();
  },
};

function Panel({ spec }: { spec: PanelSpec }) {
  const ref = useRef<HTMLCanvasElement>(null);
  useEffect(() => {
    if (!ref.current) return;
    const dots = seriesColors.map(makeDot);
    const datasets = spec.series.map((pts, i) => ({
      label: seriesNames[i],
      data: pts.map(([x, y]) => ({ x, y })),
      backgroundColor: seriesColors[i],
      borderColor: seriesColors[i],
      borderWidth: 0,
      pointRadius: i === 3 ? 7 : 2,
      pointHoverRadius: i === 3 ? 7 : 2,
    }));
    const defaultLabels = (Chart.defaults as any).plugins.legend.labels.generateLabels;
    const chart = new Chart(ref.current, {
      type: "scatter",
      data: { datasets },
      plugins: [axisTitlesPlugin],
      options: {
        responsive: false,
        animation: false,
        events: [],
        layout: { padding: { left: 0, top: 0, right: spec.padRight, bottom: spec.padBottom } },
        plugins: {
          tooltip: { enabled: false },
          axisTitles: { xText: "r / Å", yText: spec.yTitle, xDx: spec.xTitleDx, yX: spec.yTitleX },
          title: {
            display: true,
            text: spec.title,
            fullSize: spec.titleFull,
            color: "#000",
            font: { family: FONT, size: 21, weight: "normal" as any },
            padding: { top: 20.4, bottom: 23.4 },
          },
          legend: spec.legend
            ? {
                display: true,
                position: "right",
                align: "center",
                fullSize: false,
                title: { display: true, text: "", padding: { top: 4, bottom: 0 }, font: { size: 10 } },
                labels: {
                  usePointStyle: true,
                  pointStyleWidth: 29,
                  padding: 6,
                  color: TEXT,
                  font: { family: FONT, size: 16 },
                  generateLabels: (c: any) =>
                    defaultLabels(c).map((l: any) => ({ ...l, pointStyle: dots[l.datasetIndex] })),
                },
              }
            : { display: false },
        },
        scales: {
          x: {
            type: "linear",
            min: 0,
            max: 7,
            afterBuildTicks: (a: any) => { a.ticks = rTicks.map((v) => ({ value: v })); },
            afterFit: (s: any) => { s.height = 58; },
            grid: { drawOnChartArea: false, tickLength: 6, tickColor: GRID, lineWidth: 1.5 },
            border: { display: true, color: GRID, width: 1.5 },
            ticks: { color: TEXT, font: { family: FONT, size: 15 }, padding: 7, maxRotation: 0 },
            title: { display: false },
          },
          y: {
            type: "linear",
            min: 0,
            max: spec.yMax,
            afterBuildTicks: (a: any) => { a.ticks = spec.yTicks.map((v) => ({ value: v })); },
            afterFit: (s: any) => { s.width = spec.yAxisWidth; },
            grid: { color: GRID, lineWidth: 1.5, tickLength: 6, tickColor: GRID },
            border: { display: true, color: GRID, width: 1.5 },
            ticks: { color: TEXT, font: { family: FONT, size: 15 }, padding: spec.yTickPad },
            title: { display: false },
          },
          yR: {
            type: "linear",
            position: "right",
            min: 0,
            max: spec.yMax,
            afterFit: (s: any) => { s.width = spec.rightAxisWidth; },
            grid: { display: false, drawTicks: false },
            border: { display: true, color: GRID, width: 1.5 },
            ticks: { display: false },
          },
        },
      } as any,
    });
    return () => chart.destroy();
  }, [spec]);
  return (
    <canvas
      ref={ref}
      width={spec.width}
      height={spec.height}
      style={{ position: "absolute", left: spec.left, top: spec.top, width: spec.width, height: spec.height }}
    />
  );
}

const letterStyle: React.CSSProperties = {
  position: "absolute",
  fontFamily: FONT,
  fontWeight: "bold",
  fontSize: 30,
  lineHeight: "30px",
  color: "#000",
};

export default function App() {
  return (
    <div style={{ position: "absolute", left: 0, top: 0, width: 1340, height: 772, overflow: "hidden", background: "#fff" }}>
      {panels.map((p, i) => (
        <Panel key={i} spec={p} />
      ))}
      <div style={{ ...letterStyle, left: 11, top: 13 }}>A</div>
      <div style={{ ...letterStyle, left: 737, top: 12 }}>B</div>
    </div>
  );
}
